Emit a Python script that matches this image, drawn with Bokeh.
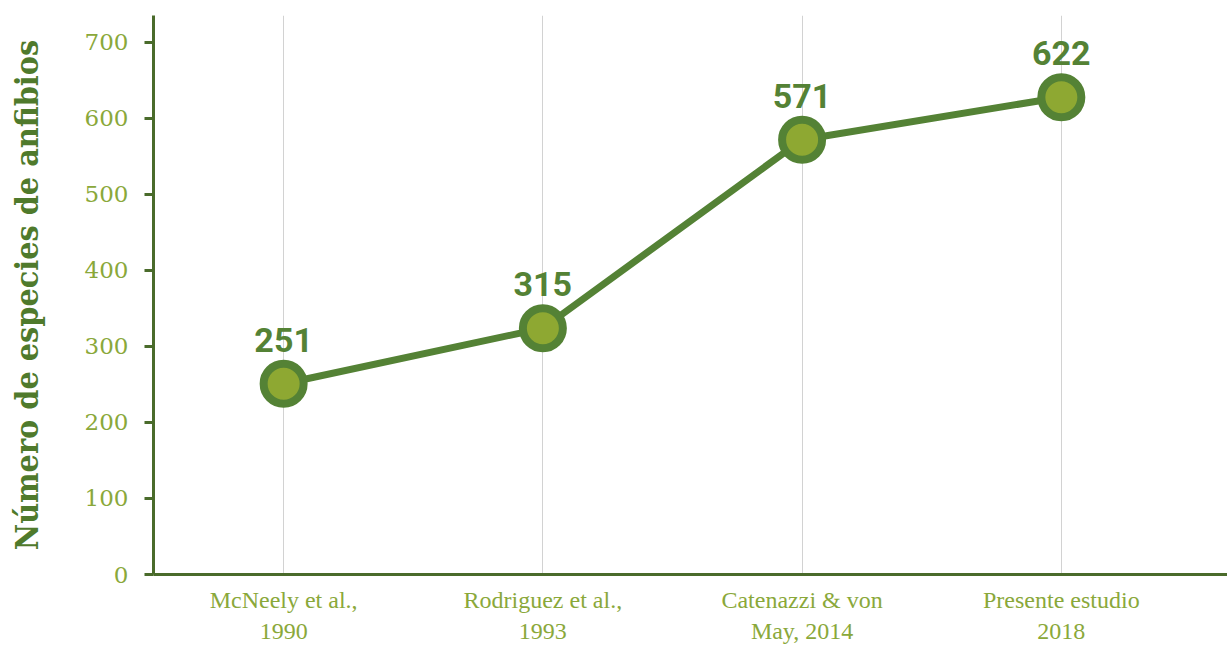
from bokeh.plotting import figure
from bokeh.models import Range1d, FixedTicker, ColumnDataSource
from bokeh.embed import file_html
from bokeh.resources import INLINE
from bokeh.core.properties import value

# Data
categories = ["McNeely et al.,\n1990", "Rodriguez et al.,\n1993",
              "Catenazzi & von\nMay, 2014", "Presente estudio\n2018"]
positions = [1, 2, 3, 4]
species = [251, 324, 572, 628]          # plotted heights
point_labels = ["251", "315", "571", "622"]
y_ticks = [0, 100, 200, 300, 400, 500, 600, 700]

DARK = "#548235"
AXIS = "#4a6b2b"
OLIVE = "#8ea832"
TICK = "#8aa83a"
TITLE = "#4f7a2c"

src = ColumnDataSource(dict(x=positions, y=species, lab=point_labels))

p = figure(width=1227, height=646, output_backend="svg", toolbar_location=None,
           x_range=Range1d(0.498, 4.641), y_range=Range1d(0, 735.5),
           min_border_left=153, min_border_right=0, min_border_top=15, min_border_bottom=60)
p.outline_line_color = None
p.background_fill_color = "white"
p.border_fill_color = "white"

# grid
p.ygrid.grid_line_color = None
p.xgrid.ticker = FixedTicker(ticks=positions)
p.xgrid.grid_line_color = "#d2d2d2"
p.xgrid.grid_line_width = 1

# x axis
p.xaxis.ticker = FixedTicker(ticks=positions)
p.xaxis.major_label_overrides = {pos: c for pos, c in zip(positions, categories)}
p.xaxis.axis_line_color = AXIS
p.xaxis.axis_line_width = 3
p.xaxis.major_tick_line_color = None
p.xaxis.minor_tick_line_color = None
p.xaxis.major_tick_out = 0
p.xaxis.major_tick_in = 0
p.xaxis.major_label_text_font = "Liberation Serif"
p.xaxis.major_label_text_font_size = "24px"
p.xaxis.major_label_text_color = TICK
p.xaxis.major_label_standoff = 12

# y axis
p.yaxis.ticker = FixedTicker(ticks=y_ticks)
p.yaxis.axis_line_color = AXIS
p.yaxis.axis_line_width = 3
p.yaxis.major_tick_line_color = AXIS
p.yaxis.major_tick_line_width = 3
p.yaxis.major_tick_out = 9
p.yaxis.major_tick_in = 0
p.yaxis.minor_tick_line_color = None
p.yaxis.major_label_text_font = "DejaVu Serif"
p.yaxis.major_label_text_font_size = "23px"
p.yaxis.major_label_text_color = TICK
p.yaxis.major_label_standoff = 16
p.yaxis.axis_label = "Número de especies de anfibios"
p.yaxis.axis_label_text_font = "DejaVu Serif Condensed"
p.yaxis.axis_label_text_font_style = "bold"
p.yaxis.axis_label_text_font_size = "32px"
p.yaxis.axis_label_text_color = TITLE
p.yaxis.axis_label_standoff = 36

# line and markers
p.line("x", "y", source=src, line_color=DARK, line_width=7)
p.scatter("x", "y", source=src, size=40, fill_color=OLIVE, line_color=DARK, line_width=8)
p.text("x", "y", text="lab", source=src, text_align="center", text_baseline="alphabetic",
       y_offset=-44, text_font=value("Roboto"), text_font_style="bold",
       text_font_size="34px", text_color=DARK)

open("out.html", "w").write(file_html(p, INLINE))
